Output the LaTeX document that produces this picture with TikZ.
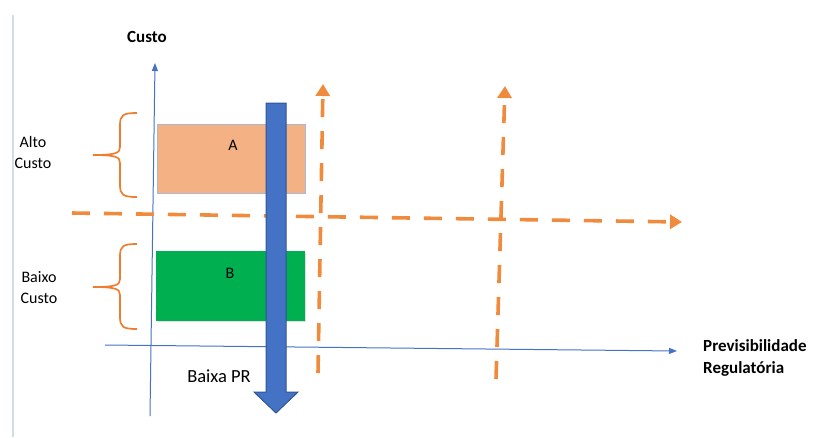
\documentclass[tikz,border=0pt]{standalone}
\usepackage{fontspec}
\setmainfont{Carlito}
\usetikzlibrary{arrows.meta,shadows}

\definecolor{axisblue}{HTML}{4472C4}
\definecolor{arrowedge}{HTML}{2F5597}
\definecolor{dashorange}{RGB}{240,138,60}
\definecolor{braceorange}{HTML}{ED7D31}
\definecolor{peach}{HTML}{F4B183}
\definecolor{boxgreen}{HTML}{00B050}

\begin{document}
\begin{tikzpicture}[
		x=1pt, y=-1pt,
		axis/.style={draw=axisblue, line width=1pt, -{Triangle[length=8pt,width=6pt]}},
		guide/.style={draw=dashorange, line width=3.6pt, dash pattern=on 18pt off 14pt, -{Triangle[length=12pt,width=14pt]}},
		curly/.style={draw=braceorange, line width=1.7pt},
		box/.style={minimum width=148pt, minimum height=69pt, inner sep=0pt},
		label/.style={font=\fontsize{16}{21}\selectfont, align=center},
		axislabel/.style={font=\bfseries\fontsize{17}{22}\selectfont, align=left},
		bigarrow/.style={fill=axisblue, draw=arrowedge, line width=1pt},
	]
		\useasboundingbox (0,0) rectangle (814,437);
		\draw[color={rgb,255:red,212;green,220;blue,232}, line width=1.5pt] (13,15) -- (13,437);

		% boxes
		\node [box, fill=peach, draw={rgb,255:red,170;green,185;blue,210}, line width=0.6pt] (box a) at (231,158.5) {};
		\node [box, fill=boxgreen, draw=boxgreen, drop shadow={shadow xshift=1.5pt, shadow yshift=-2pt, opacity=0.25}] (box b) at (230,285.5) {};
		\node [label] (lab a) at (233,145) {A};
		\node [label] (lab b) at (230,273) {B};

		% axes
		\coordinate (y from) at (150,416);
		\coordinate (y to) at (155,63);
		\coordinate (x from) at (105,345);
		\coordinate (x to) at (677,351);
		\draw[axis] (y from) -- (y to);
		\draw[axis] (x from) -- (x to);

		% orange guides
		\coordinate (h from) at (72,213);
		\coordinate (h to) at (682,222);
		\coordinate (v1 from) at (318,373);
		\coordinate (v1 to) at (323,84);
		\coordinate (v2 from) at (496,379);
		\coordinate (v2 to) at (505,86);
		\draw[guide] (h from) -- (h to);
		\draw[guide] (v1 from) -- (v1 to);
		\draw[guide] (v2 from) -- (v2 to);

		% braces
		\foreach \t/\m/\b in {113/155/197, 244/287/329}
			\draw[curly] (137,\t) .. controls (123,\t) and (120,\t+2) .. (120,\t+12) -- (120,\m-8)
				.. controls (120,\m-2) and (116,\m) .. (93,\m)
				.. controls (116,\m) and (120,\m+2) .. (120,\m+8) -- (120,\b-12)
				.. controls (120,\b-2) and (123,\b) .. (137,\b);

		% big arrow
		\draw[bigarrow] (266,103) -- (286,103) -- (286,392) -- (298,392) -- (276,413) -- (254,392) -- (266,392) -- cycle;

		% texts
		\node [axislabel] (custo) at (147,37) {Custo};
		\node [label] (alto) at (33,152) {Alto\\Custo};
		\node [label] (baixo) at (39,288) {Baixo\\Custo};
		\node [label, font=\fontsize{18.5}{22}\selectfont] (baixa pr) at (219,376) {Baixa PR};
		\node [axislabel, anchor=west, inner sep=0pt] (previs) at (703,358) {Previsibilidade\\Regulatória};
	\end{tikzpicture}
\end{document}
